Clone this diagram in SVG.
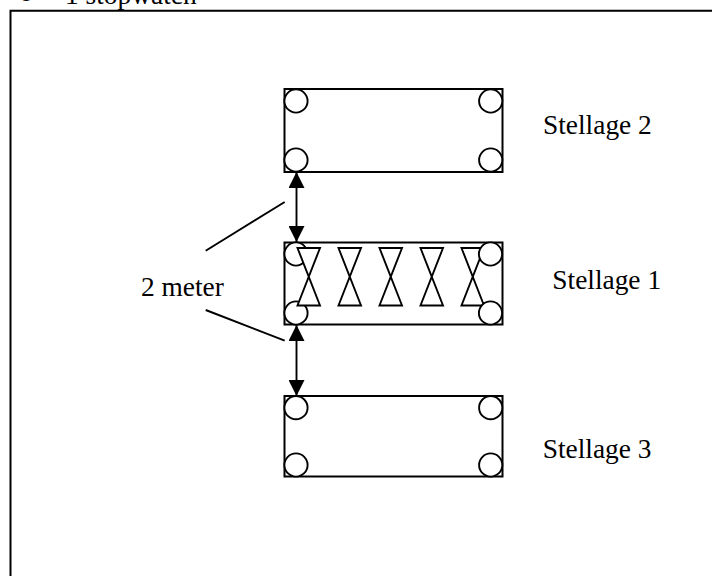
<svg xmlns="http://www.w3.org/2000/svg" width="712" height="576" viewBox="0 0 712 576">
<style>
.s{fill:none;stroke:#000;stroke-width:2}
.f{fill:#fff;stroke:#000;stroke-width:1.9}
.l{fill:none;stroke:#000;stroke-width:1.9}
text{font-family:"Liberation Serif","Times New Roman",serif;font-size:27.4px;fill:#000}
</style>
<defs>
<marker id="a" markerUnits="userSpaceOnUse" markerWidth="16" markerHeight="16" refX="16" refY="8" orient="auto-start-reverse"><path d="M0 0L16 8L0 16Z" fill="#000"/></marker>
<circle id="c" r="11.6" class="f"/>
<path id="b" d="M0 0H22.5L0 57.5H22.5Z" class="f"/>
</defs>
<rect width="712" height="576" fill="#fff"/>
<text x="18" y="1" style="font-family:'Liberation Mono',monospace">o</text>
<text x="65" y="4">1 stopwatch</text>
<path d="M10.5 576V10.7H712" class="s" id="frame"/>
<g id="stellage2">
<rect x="284.5" y="89" width="218" height="83" class="s"/>
<use href="#c" x="296" y="101"/><use href="#c" x="490.7" y="101"/><use href="#c" x="296" y="160"/><use href="#c" x="490.7" y="160"/>
<text x="543" y="133.5">Stellage 2</text>
</g>
<g id="stellage1">
<rect x="284.5" y="242.5" width="218" height="82" class="s"/>
<use href="#c" x="296" y="254"/><use href="#c" x="296" y="313"/>
<use href="#b" x="297.5" y="248"/><use href="#b" x="338.5" y="248"/><use href="#b" x="379.5" y="248"/><use href="#b" x="420.5" y="248"/><use href="#b" x="461.5" y="248"/>
<use href="#c" x="490.5" y="254"/><use href="#c" x="490.5" y="313"/>
<text x="552.3" y="289.3">Stellage 1</text>
</g>
<g id="stellage3">
<rect x="284.5" y="396" width="218" height="80.5" class="s"/>
<use href="#c" x="296" y="407.7"/><use href="#c" x="490.7" y="407.7"/><use href="#c" x="296" y="465"/><use href="#c" x="490.7" y="465"/>
<text x="542.7" y="458">Stellage 3</text>
</g>
<g id="label"><text x="141" y="295.5">2 meter</text></g>
<g id="connectors">
<path d="M296.5 172V242" class="l" marker-start="url(#a)" marker-end="url(#a)"/>
<path d="M296.5 325V396" class="l" marker-start="url(#a)" marker-end="url(#a)"/>
<path d="M205.7 250.7L284.7 202" class="l"/>
<path d="M205.7 310L284.7 340.7" class="l"/>
</g>
</svg>
